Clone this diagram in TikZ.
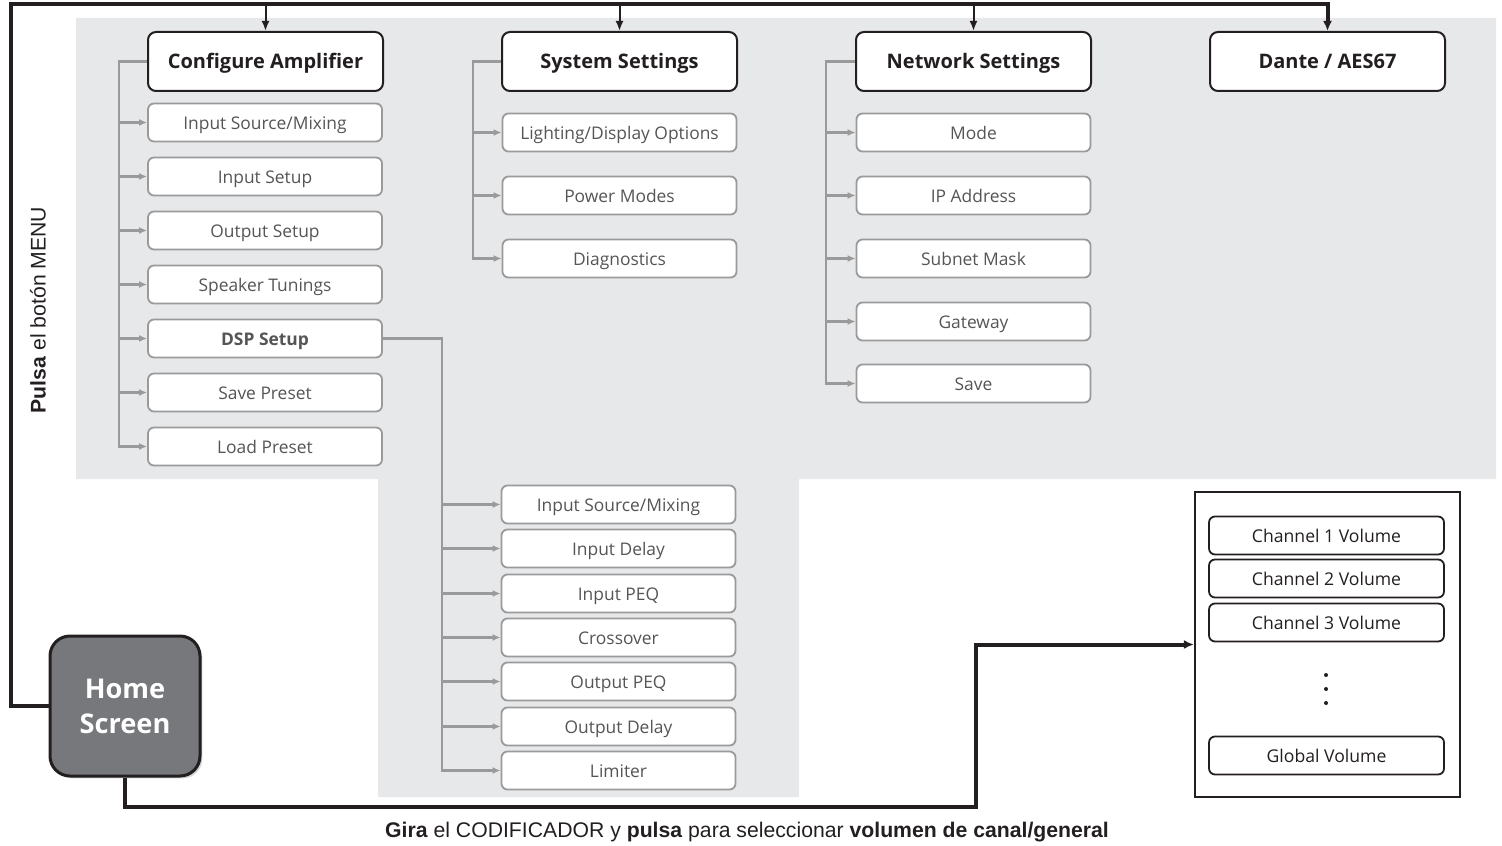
\documentclass[tikz,border=0pt]{standalone}
\usepackage{fontspec}
\setmainfont{Open Sans}
\newfontfamily\arialf{Liberation Sans}
\usetikzlibrary{arrows.meta,shadows,calc}
\definecolor{bggray}{HTML}{E7E8EA}
\definecolor{itemgray}{HTML}{9A9A9A}
\definecolor{itemtext}{HTML}{555555}
\definecolor{darkline}{HTML}{231F20}
\definecolor{homefill}{HTML}{77787B}
\tikzset{
  hdr/.style={draw=darkline, line width=1pt, rounded corners=4pt, fill=white,
    minimum width=117.5pt, minimum height=29.5pt, font=\fontsize{10}{12}\selectfont\bfseries, text=darkline, inner sep=0pt,
    text height=1.33ex, text depth=0pt},
  item/.style={draw=itemgray, line width=0.9pt, rounded corners=3pt, fill=white,
    minimum width=117pt, minimum height=19pt, font=\fontsize{8.7}{10}\selectfont, text=itemtext, inner sep=0pt,
    text height=1.33ex, text depth=0pt},
  vitem/.style={draw=darkline, line width=0.9pt, rounded corners=3pt, fill=white,
    minimum width=117.5pt, minimum height=19pt, font=\fontsize{8.8}{10}\selectfont, text=darkline, inner sep=0pt,
    text height=1.33ex, text depth=0pt},
  tree/.style={draw=itemgray, line width=1.3pt, -{Latex[length=4pt,width=3.5pt]}},
  mainline/.style={draw=darkline, line width=2pt},
  marrow/.style={draw=darkline, line width=1pt, -{Latex[length=5pt,width=4pt]}},
}
\begin{document}
\begin{tikzpicture}[x=0.5pt,y=-0.5pt]
\useasboundingbox (0,0) rectangle (1502,845);
% gray background
\fill[bggray] (76,18) -- (1496,18) -- (1496,479) -- (799,479) -- (799,797) -- (378,797) -- (378,479) -- (76,479) -- cycle;

% headers
\node[hdr] (ca) at (265.5,61.5) {Configure Amplifier};
\node[hdr] (ss) at (619.5,61.5) {System Settings};
\node[hdr] (ns) at (973.5,61.5) {Network Settings};
\node[hdr] (da) at (1327.5,61.5) {Dante / AES67};

% Configure Amplifier items
\node[item] (ca1) at (265,122.5) {Input Source/Mixing};
\node[item] (ca2) at (265,176.5) {Input Setup};
\node[item] (ca3) at (265,230.5) {Output Setup};
\node[item] (ca4) at (265,284.5) {Speaker Tunings};
\node[item,font=\fontsize{8.7}{10}\selectfont\bfseries] (ca5) at (265,338.5) {DSP Setup};
\node[item] (ca6) at (265,392.5) {Save Preset};
\node[item] (ca7) at (265,446.5) {Load Preset};
\foreach \i in {1,...,7} \draw[tree] (ca.west) -- ++(-28,0) |- (ca\i.west);

% System settings items
\node[item] (ss1) at (619.5,132.5) {Lighting/Display Options};
\node[item] (ss2) at (619.5,195.5) {Power Modes};
\node[item] (ss3) at (619.5,258.5) {Diagnostics};
\foreach \i in {1,...,3} \draw[tree] (ss.west) -- ++(-28,0) |- (ss\i.west);

% Network items
\node[item] (ns1) at (973.5,132.5) {Mode};
\node[item] (ns2) at (973.5,195.5) {IP Address};
\node[item] (ns3) at (973.5,258.5) {Subnet Mask};
\node[item] (ns4) at (973.5,321.5) {Gateway};
\node[item] (ns5) at (973.5,383.5) {Save};
\foreach \i in {1,...,5} \draw[tree] (ns.west) -- ++(-29,0) |- (ns\i.west);

% DSP items
\node[item] (d1) at (618.5,504.5) {Input Source/Mixing};
\node[item] (d2) at (618.5,548.5) {Input Delay};
\node[item] (d3) at (618.5,593.5) {Input PEQ};
\node[item] (d4) at (618.5,637.5) {Crossover};
\node[item] (d5) at (618.5,681.5) {Output PEQ};
\node[item] (d6) at (618.5,726.5) {Output Delay};
\node[item] (d7) at (618.5,770.5) {Limiter};
\foreach \i in {1,...,7} \draw[tree] (ca5.east) -- ++(59,0) |- (d\i.west);

% Home screen
\node[draw=darkline, line width=1.5pt, fill=homefill, rounded corners=10pt,
  minimum width=75pt, minimum height=70pt, inner sep=0pt, align=center,
  text=white, font=\fontsize{13.6}{17.5}\selectfont\bfseries,
  drop shadow={shadow xshift=1.2pt, shadow yshift=-1.2pt, opacity=0.35}] (home) at (125,706) {Home\\Screen};

% volume box
\node[draw=darkline, line width=1.1pt, fill=white, minimum width=132.5pt, minimum height=152.5pt, inner sep=0pt] (vol) at (1327.5,644.5) {};
\node[vitem] (v1) at (1326.5,535.5) {Channel 1 Volume};
\node[vitem] (v2) at (1326.5,578.5) {Channel 2 Volume};
\node[vitem] (v3) at (1326.5,622.5) {Channel 3 Volume};
\node[vitem] (v4) at (1326.5,755.5) {Global Volume};
\foreach \yy in {675,689,703} \fill[darkline] (1326,\yy) circle (1pt);

% main black connectors
\coordinate (tl) at (11,4);
\coordinate (br) at (976,807);
\draw[mainline, -{Latex[length=5pt,width=4.5pt]}] (home.west) -| (tl) -| (da.north);
\foreach \n in {ca,ss,ns} \draw[marrow] (\n.north |- tl) -- (\n.north);
\draw[mainline, -{Latex[length=5pt,width=4.5pt]}] (home.south) |- (br) |- (vol.west);

% texts
\node[rotate=90, font=\arialf\fontsize{10.6}{12}\selectfont, text=darkline] (lt) at (38,310) {\textbf{Pulsa} el botón MENU};
\node[font=\arialf\fontsize{10.6}{12}\selectfont, text=darkline] (bt) at (747,832) {\textbf{Gira} el CODIFICADOR y \textbf{pulsa} para seleccionar \textbf{volumen de canal/general}};
\end{tikzpicture}
\end{document}
